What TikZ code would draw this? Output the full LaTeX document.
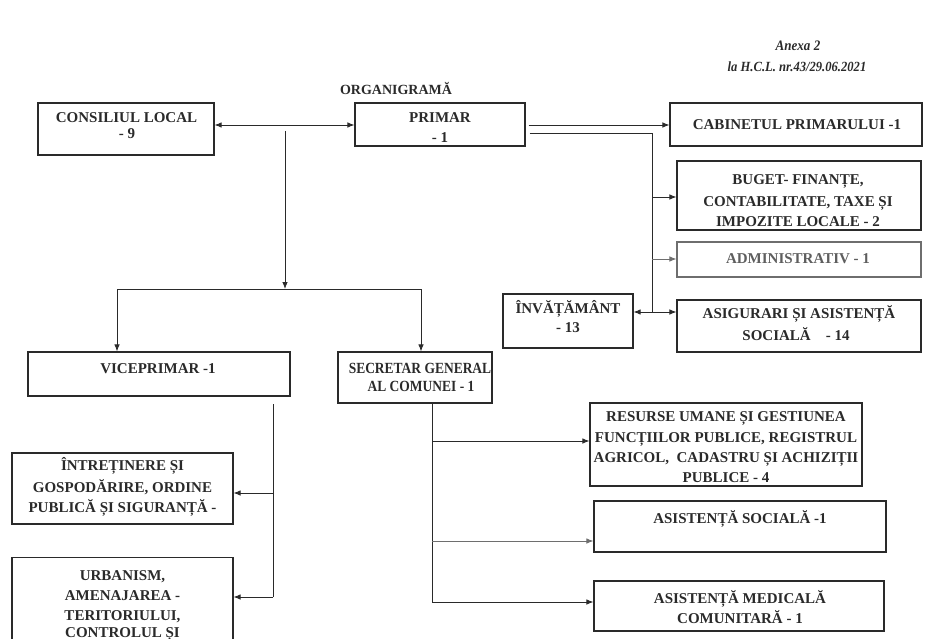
\documentclass[tikz,border=0pt]{standalone}
\usepackage{fontspec}
\setmainfont{Liberation Serif}
\newfontfamily\hdrfont{Liberation Serif}[FakeStretch=0.9]
\newfontfamily\condfont{Liberation Serif}[FakeStretch=0.87]
\usetikzlibrary{arrows.meta,calc}
\definecolor{ink}{HTML}{2A2A2A}
\definecolor{lightink}{HTML}{6E6E6E}
\begin{document}
\begin{tikzpicture}[x=1pt,y=-1pt,
  box/.style={draw=ink, line width=1.2pt, inner sep=0pt},
  lbl/.style={anchor=base, inner sep=0pt, text=ink, font=\fontsize{15}{18}\selectfont\bfseries},
  clbl/.style={lbl, font=\condfont\fontsize{15.5}{18}\selectfont\bfseries},
  conn/.style={draw=ink, line width=0.8pt},
  arr/.style={conn, -{Latex[length=7pt,width=5.5pt]}},
  darr/.style={conn, {Latex[length=7pt,width=5.5pt]}-{Latex[length=7pt,width=5.5pt]}},
  hdr/.style={anchor=base, text=ink, inner sep=0pt}
]
\useasboundingbox (0,0) rectangle (928,639);
\clip (0,0) rectangle (928,639);

% header
\node[hdr, font=\hdrfont\fontsize{14.5}{16}\selectfont\bfseries\itshape] (anexa) at (798,51) {Anexa 2};
\node[hdr, font=\hdrfont\fontsize{14}{16}\selectfont\bfseries\itshape] (hcl) at (797,72) {la H.C.L. nr.43/29.06.2021};
\node[hdr, font=\fontsize{14}{16}\selectfont\bfseries] (title) at (396,95) {ORGANIGRAMĂ};

% boxes
\node[box, minimum width=176pt, minimum height=52pt] (cl) at (126,129) {};
\node[lbl] (cl-1) at (126.5,123) {CONSILIUL LOCAL};
\node[lbl] (cl-2) at (127,138.5) {- 9};

\node[box, minimum width=170pt, minimum height=43pt] (primar) at (440,124.5) {};
\node[lbl] (primar-1) at (440,123) {PRIMAR};
\node[lbl] (primar-2) at (440,142.5) {- 1};

\node[box, minimum width=252pt, minimum height=43pt] (cab) at (796,124.5) {};
\node[lbl] (cab-1) at (797,130) {CABINETUL PRIMARULUI -1};

\node[box, minimum width=244pt, minimum height=69pt] (buget) at (799,195.5) {};
\node[lbl] (buget-1) at (798,185) {BUGET- FINANȚE,};
\node[lbl] (buget-2) at (798,206) {CONTABILITATE, TAXE ȘI};
\node[lbl] (buget-3) at (798,226.5) {IMPOZITE LOCALE - 2};

\node[box, draw=lightink, minimum width=244pt, minimum height=35pt] (admin) at (799,259.5) {};
\node[lbl, text=lightink!85!black] (admin-1) at (798,263.5) {ADMINISTRATIV - 1};

\node[box, minimum width=244pt, minimum height=52pt] (asig) at (799,326) {};
\node[lbl] (asig-1) at (799,318) {ASIGURARI ȘI ASISTENȚĂ};
\node[lbl] (asig-2) at (796,340) {SOCIALĂ\quad - 14};

\node[box, minimum width=130pt, minimum height=54pt] (inv) at (568,321) {};
\node[lbl] (inv-1) at (568,313) {ÎNVĂȚĂMÂNT};
\node[lbl] (inv-2) at (568,332.5) {- 13};

\node[box, minimum width=262pt, minimum height=44pt] (vice) at (159,374) {};
\node[lbl] (vice-1) at (158,373.5) {VICEPRIMAR -1};

\node[box, minimum width=154pt, minimum height=51pt] (sec) at (415,377.5) {};
\node[clbl] (sec-1) at (420,373.5) {SECRETAR GENERAL};
\node[clbl] (sec-2) at (421,391) {AL COMUNEI - 1};

\node[box, minimum width=221pt, minimum height=71pt] (intr) at (122.5,488.5) {};
\node[lbl] (intr-1) at (122.5,470.5) {ÎNTREȚINERE ȘI};
\node[lbl] (intr-2) at (122.5,492) {GOSPODĂRIRE, ORDINE};
\node[lbl] (intr-3) at (122.5,512.5) {PUBLICĂ ȘI SIGURANȚĂ -};

\node[box, anchor=north, minimum width=221pt, minimum height=110pt] (urb) at (122.5,557) {};
\node[lbl] (urb-1) at (122.5,580) {URBANISM,};
\node[lbl] (urb-2) at (122.5,600.5) {AMENAJAREA -};
\node[lbl] (urb-3) at (122.5,620) {TERITORIULUI,};
\node[lbl] (urb-4) at (122.5,637.5) {CONTROLUL ȘI};

\node[box, minimum width=272pt, minimum height=83pt] (res) at (726,444.5) {};
\node[lbl] (res-1) at (726,421) {RESURSE UMANE ȘI GESTIUNEA};
\node[lbl] (res-2) at (726,442) {FUNCȚIILOR PUBLICE, REGISTRUL};
\node[lbl] (res-3) at (726,462.5) {AGRICOL,\ \ CADASTRU ȘI ACHIZIȚII};
\node[lbl] (res-4) at (726,482) {PUBLICE - 4};

\node[box, minimum width=292pt, minimum height=51pt] (asoc) at (740,526.5) {};
\node[lbl] (asoc-1) at (740,523) {ASISTENȚĂ SOCIALĂ -1};

\node[box, minimum width=290pt, minimum height=50pt] (amed) at (739,606) {};
\node[lbl] (amed-1) at (740,603) {ASISTENȚĂ MEDICALĂ};
\node[lbl] (amed-2) at (740,623.5) {COMUNITARĂ - 1};

% helper coordinates
\coordinate (yA) at (0,125);
\coordinate (yB) at (0,133);
\coordinate (trunkTop) at (285,131);
\coordinate (busL) at (117,289);
\coordinate (busM) at (285,289);
\coordinate (busR) at (421,289);
\coordinate (rTop) at (652,133);
\coordinate (rBot) at (652,312);
\coordinate (vTop) at (273,404);
\coordinate (vBot) at (273,597);
\coordinate (sBot) at (432,602);

% top connectors
\draw[darr] (cl.east |- yA) -- (primar.west |- yA);
\draw[arr] (trunkTop) -- (busM);
\draw[conn] (busL) -- (busR);
\draw[arr] (busL) -- (busL |- vice.north);
\draw[arr] (busR) -- (busR |- sec.north);
\draw[arr] ($(primar.east |- yA)+(3,0)$) -- (cab.west |- yA);
\draw[conn] ($(primar.east |- yB)+(4,0)$) -- (rTop) -- (rBot);
\draw[arr] (rTop |- 0,197) -- (buget.west |- 0,197);
\draw[arr, draw=lightink] (rTop |- 0,259) -- (admin.west |- 0,259);
\draw[darr] (inv.east |- rBot) -- (asig.west |- rBot);

% viceprimar branch
\draw[conn] (vTop) -- (vBot);
\draw[arr] (vTop |- 0,493) -- (intr.east |- 0,493);
\draw[arr] (vBot) -- (urb.east |- vBot);

% secretar branch
\draw[conn] (sec.south -| sBot) -- (sBot);
\draw[arr] (sBot |- 0,441) -- (res.west |- 0,441);
\draw[arr, draw=lightink] (sBot |- 0,541) -- (asoc.west |- 0,541);
\draw[arr] (sBot) -- (amed.west |- sBot);
\end{tikzpicture}
\end{document}
